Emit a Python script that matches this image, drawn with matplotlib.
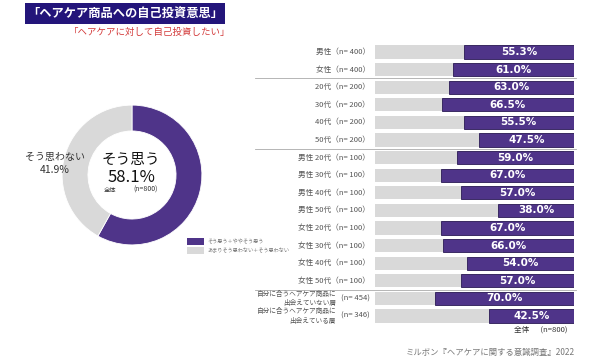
import matplotlib

matplotlib.use("Agg")
import matplotlib.pyplot as plt
from matplotlib.patches import Rectangle

plt.rcParams["font.family"] = ["Noto Sans CJK JP", "DejaVu Sans"]

W, H = 590, 361
PURPLE = "#4F3489"
GRAY = "#D9D9D9"
TXT = "#555555"

# data
pie_labels = ["そう思う", "そう思わない"]
pie_values = [58.1, 41.9]
row_groups = ["男性", "女性", "20代", "30代", "40代", "50代",
              "男性 20代", "男性 30代", "男性 40代", "男性 50代",
              "女性 20代", "女性 30代", "女性 40代", "女性 50代",
              "自分に合うヘアケア商品に\n出会えていない層",
              "自分に合うヘアケア商品に\n出会えている層"]
row_n = [400, 400, 200, 200, 200, 200, 100, 100, 100, 100,
         100, 100, 100, 100, 454, 346]
row_values = [55.3, 61.0, 63.0, 66.5, 55.5, 47.5, 59.0, 67.0, 57.0, 38.0,
              67.0, 66.0, 54.0, 57.0, 70.0, 42.5]
separators_after = [1, 5, 13]

fig = plt.figure(figsize=(W / 100, H / 100), dpi=100)


def px(x, y):
    return x / W, 1 - y / H


# title
fig.patches.append(Rectangle(px(25, 24), 200 / W, 21 / H, transform=fig.transFigure,
                             facecolor="#23157A", edgecolor="none"))
fig.text(*px(125, 13.5), "「ヘアケア商品への自己投資意思」", color="white", fontsize=8.8,
         fontweight="bold", ha="center", va="center")
fig.text(*px(150, 32), "「ヘアケアに対して自己投資したい」", color="#D33A3A", fontsize=6.8,
         ha="center", va="center")

# donut
cx, cy, r = 132, 175, 70
axp = fig.add_axes([(cx - 72) / W, 1 - (cy + 72) / H, 144 / W, 144 / H])
axp.pie(pie_values, colors=[PURPLE, GRAY], startangle=90, counterclock=False,
        wedgeprops=dict(width=0.37, edgecolor="white", linewidth=0.6))
axp.set_xlim(-1.03, 1.03)
axp.set_ylim(-1.03, 1.03)
axp.set_aspect("auto")
axp.axis("off")

fig.text(*px(131, 160), pie_labels[0], fontsize=10.5, ha="center", va="center", color="#111111")
fig.text(*px(131, 178), f"{pie_values[0]}%", fontsize=12, ha="center", va="center", color="#111111")
fig.text(*px(110, 190), "全体", fontsize=4.5, ha="center", va="center", color="#333333")
fig.text(*px(146, 190), "(n=800)", fontsize=5, ha="center", va="center", color="#333333")
fig.text(*px(55, 157), pie_labels[1], fontsize=7.2, ha="center", va="center", color="#333333")
fig.text(*px(55, 170), f"{pie_values[1]}%", fontsize=7.5, ha="center", va="center", color="#333333")

# legend
fig.patches.append(Rectangle(px(187, 245), 17 / W, 7 / H, transform=fig.transFigure,
                             facecolor=PURPLE, edgecolor="none"))
fig.patches.append(Rectangle(px(187, 254), 17 / W, 7 / H, transform=fig.transFigure,
                             facecolor=GRAY, edgecolor="none"))
fig.text(*px(207, 241.5), "そう思う＋ややそう思う", fontsize=3.7, va="center", color="#777777")
fig.text(*px(207, 250.5), "あまりそう思わない＋そう思わない", fontsize=3.7, va="center", color="#777777")

# bars
top, bottom = 52, 316
step = (bottom - top) / (len(row_values) - 1)
axb = fig.add_axes([375 / W, 1 - (bottom + step / 2) / H, 199 / W, (bottom - top + step) / H])
ys = list(range(len(row_values)))
axb.barh(ys, [100] * len(ys), height=0.74, color=GRAY)
axb.barh(ys, row_values, left=[100 - v for v in row_values], height=0.74,
         color=PURPLE, edgecolor="#2A1A55", linewidth=0.6)
for y, v in zip(ys, row_values):
    axb.text(100 - v / 2, y, f"{v:.1f}%", color="white", fontsize=7.5, fontweight="bold",
             ha="center", va="center", family=["DejaVu Sans"])
axb.set_xlim(0, 100)
axb.set_ylim(len(ys) - 0.5, -0.5)
axb.axis("off")

for i, (g, n) in enumerate(zip(row_groups, row_n)):
    yy = top + i * step
    if "\n" in g:
        fig.text(*px(336, yy), g, fontsize=4.8, ha="right", va="center", color=TXT,
                 linespacing=1.25)
        fig.text(*px(370, yy), f"(n= {n})", fontsize=5.5, ha="right", va="center", color=TXT)
    else:
        fig.text(*px(370, yy), f"{g}（n= {n}）", fontsize=5.5, ha="right", va="center", color=TXT)

for i in separators_after:
    yy = top + (i + 0.5) * step
    fig.add_artist(plt.Line2D([255 / W, 576 / W], [1 - yy / H] * 2, color="#AAAAAA",
                              lw=0.6, transform=fig.transFigure))

fig.text(*px(568, 330), "全体　  (n=800)", fontsize=5.5, ha="right", va="center", color="#333333")
fig.text(*px(575, 352), "ミルボン『ヘアケアに関する意識調査』2022", fontsize=6, ha="right",
         va="center", color="#777777")

fig.savefig("out.png", dpi=100)
